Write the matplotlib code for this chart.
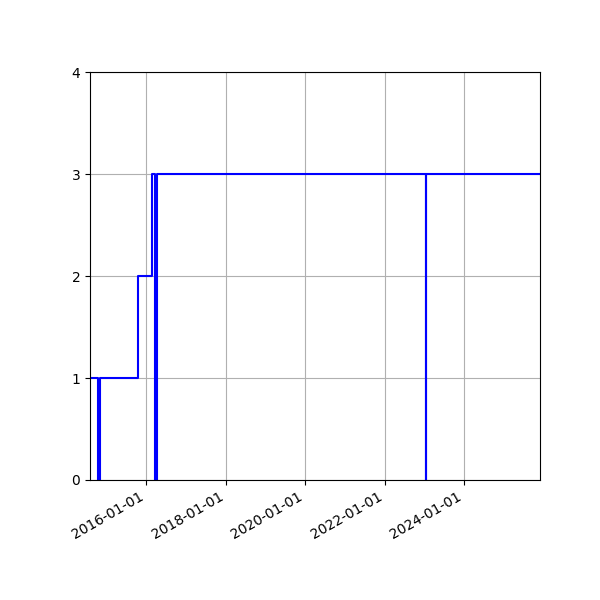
import pandas as pd
import matplotlib
matplotlib.use('Agg')
import matplotlib.pyplot as plt
import matplotlib.dates as mdates

# step values (steps-post)
dates = ['2014-08-01', '2014-10-16', '2014-11-01', '2015-10-13', '2016-02-27',
         '2016-03-20', '2016-04-05', '2023-01-15', '2023-01-16', '2025-12-01']
values = [1, 0, 1, 2, 3, 0, 3, 0, 3, 3]
tick_dates = ['2016-01-01', '2018-01-01', '2020-01-01', '2022-01-01', '2024-01-01']
y_ticks = [0, 1, 2, 3, 4]

x = pd.to_datetime(dates)

fig, ax = plt.subplots(figsize=(6, 6), dpi=100)
ax.plot(x, values, drawstyle='steps-post', color='blue', linewidth=1.5)

ax.set_xlim(x[0], x[-1])
ax.set_ylim(0, 4)
ax.set_yticks(y_ticks)
ax.set_xticks(pd.to_datetime(tick_dates))
ax.xaxis.set_major_formatter(mdates.DateFormatter('%Y-%m-%d'))
ax.grid(True)

fig.autofmt_xdate()
fig.subplots_adjust(left=0.15, right=0.9, top=0.88, bottom=0.2)
fig.savefig('out.png')
